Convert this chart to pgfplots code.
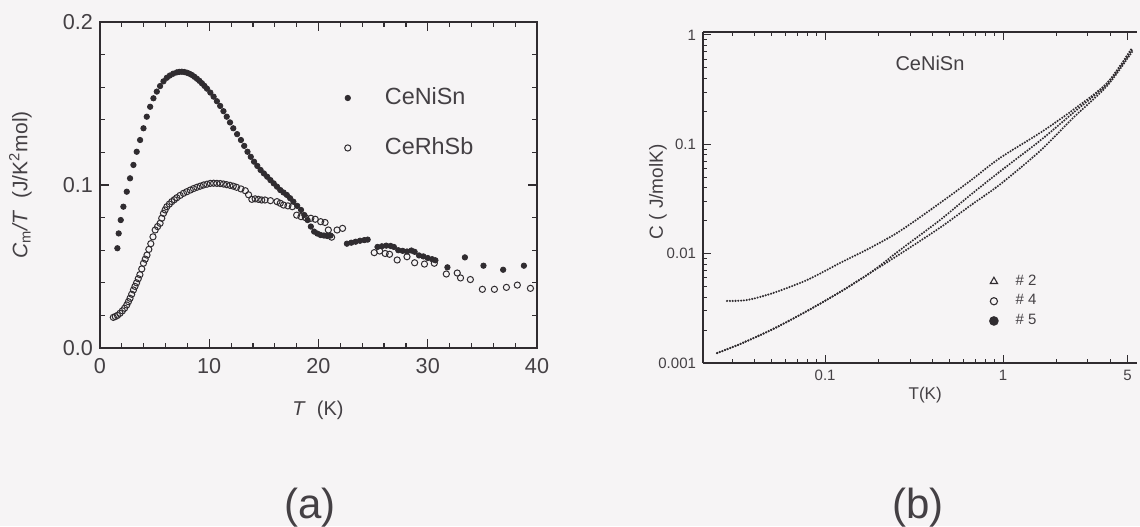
\documentclass[border=0pt]{standalone}
\usepackage{fontspec}
\setmainfont{Liberation Sans}
\usepackage{pgfplots}
\pgfplotsset{compat=1.18}

\definecolor{ink}{RGB}{48,44,48}
\definecolor{txt}{RGB}{68,64,68}
\definecolor{paper}{RGB}{246,244,245}

% C_m/T of CeNiSn (filled) and CeRhSb (open)
\pgfplotstableread{
T      c
1.59 0.0612
1.71 0.0703
1.90 0.0785
2.14 0.0867
2.45 0.0959
2.75 0.1041
3.06 0.1123
3.36 0.1204
3.67 0.1276
3.98 0.1348
4.28 0.1419
4.59 0.1480
4.89 0.1532
5.20 0.1573
5.50 0.1607
5.81 0.1636
6.12 0.1658
6.40 0.1672
6.70 0.1683
7.03 0.1691
7.26 0.1694
7.49 0.1695
7.72 0.1693
7.95 0.1689
8.18 0.1683
8.41 0.1675
8.64 0.1664
8.87 0.1652
9.10 0.1639
9.33 0.1624
9.56 0.1608
9.79 0.1591
10.1 0.1567
10.4 0.1542
10.7 0.1514
11.0 0.1485
11.3 0.1453
11.6 0.1419
11.9 0.1384
12.2 0.1348
12.55 0.1312
12.9 0.1276
13.2 0.1240
13.5 0.1204
13.8 0.1173
14.1 0.1143
14.4 0.1117
14.7 0.1092
15.0 0.1071
15.3 0.1051
15.6 0.1030
15.9 0.1010
16.2 0.0990
16.5 0.0969
16.8 0.0954
17.1 0.0939
17.4 0.0919
17.7 0.0898
18.05 0.0872
18.4 0.0847
18.7 0.0816
19.0 0.0785
19.3 0.0745
19.6 0.0714
19.9 0.0702
20.2 0.0693
20.5 0.0690
20.8 0.0687
21.1 0.0690
22.6 0.0640
23.0 0.0646
23.4 0.0652
23.8 0.0658
24.2 0.0662
24.5 0.0665
25.4 0.0620
25.8 0.0624
26.2 0.0628
26.6 0.0626
26.9 0.0620
27.3 0.0600
27.7 0.0596
28.1 0.0592
28.5 0.0598
28.8 0.0590
29.2 0.0568
29.6 0.0562
30.0 0.0552
30.4 0.0545
30.7 0.0538
31.8 0.0495
33.4 0.0556
35.1 0.0505
36.9 0.0480
38.8 0.0505
}\cenisn

\pgfplotstableread{
T      c
1.22 0.0188
1.40 0.0193
1.60 0.0200
1.83 0.0213
2.05 0.0228
2.25 0.0244
2.45 0.0264
2.60 0.0284
2.75 0.0305
2.90 0.0330
3.06 0.0356
3.20 0.0378
3.35 0.0400
3.50 0.0425
3.65 0.0450
3.82 0.0485
3.98 0.0520
4.14 0.0545
4.30 0.0570
4.47 0.0605
4.65 0.0640
4.85 0.0682
5.05 0.0724
5.27 0.0745
5.50 0.0765
5.65 0.0796
5.81 0.0826
5.96 0.0847
6.12 0.0867
6.35 0.0883
6.57 0.0898
6.80 0.0910
7.03 0.0922
7.33 0.0936
7.64 0.0949
7.95 0.0959
8.26 0.0969
8.56 0.0978
8.87 0.0986
9.17 0.0993
9.48 0.1000
9.79 0.1005
10.1 0.1010
10.4 0.1011
10.7 0.1010
11.0 0.1009
11.3 0.1006
11.6 0.1002
11.9 0.0998
12.2 0.0993
12.5 0.0986
12.9 0.0976
13.3 0.0965
13.6 0.0940
13.9 0.0912
14.2 0.0915
14.5 0.0912
14.8 0.0908
15.1 0.0908
15.6 0.0904
16.2 0.0898
16.5 0.0888
16.8 0.0877
17.2 0.0872
17.6 0.0867
18.0 0.0815
18.4 0.0806
18.8 0.0800
19.3 0.0796
19.7 0.0790
20.2 0.0775
20.6 0.0770
20.9 0.0724
21.2 0.0680
21.7 0.0724
22.2 0.0734
25.1 0.0585
25.6 0.0595
26.1 0.0580
26.5 0.0575
27.2 0.0540
28.1 0.0560
28.8 0.0523
29.7 0.0515
30.6 0.0520
31.7 0.0454
32.7 0.0460
33.0 0.0430
33.9 0.0420
35.0 0.0360
36.1 0.0360
37.2 0.0372
38.2 0.0386
39.4 0.0366
}\cerhsb

% C(T) of three CeNiSn samples
\pgfplotstableread{
T       C
0.02814 0.003694
0.03645 0.003770
0.05104 0.004369
0.0792  0.005745
0.1214  0.008221
0.1789  0.01127
0.2638  0.01613
0.4428  0.02909
0.6525  0.04625
0.9619  0.07508
1.614   0.1272
2.474   0.2064
3.840   0.3646
5.305   0.7621
}\sampletwo

\pgfplotstableread{
T       C
0.02473 0.001234
0.03331 0.001492
0.05104 0.002047
0.0792  0.002990
0.1214  0.004463
0.1789  0.006659
0.2638  0.01081
0.4428  0.02033
0.6525  0.03420
0.9619  0.05650
1.614   0.1080
2.474   0.1937
3.840   0.3568
5.305   0.7308
}\samplefour

\pgfplotstableread{
T       C
0.02473 0.001234
0.03331 0.001492
0.05104 0.002047
0.0792  0.002990
0.1214  0.004463
0.1789  0.006659
0.2638  0.009938
0.4428  0.01730
0.6525  0.02740
0.9619  0.04300
1.614   0.08700
2.474   0.1743
3.840   0.3421
5.305   0.7003
}\samplefive

\begin{document}
\begin{tikzpicture}
\fill[paper] (0pt,0pt) rectangle (570pt,263pt);
\useasboundingbox (0pt,0pt) rectangle (570pt,263pt);

% ---------------- (a) linear plot ----------------
\begin{axis}[
  at={(50pt,89pt)}, anchor=south west, scale only axis,
  width=218.5pt, height=163pt,
  xmin=0, xmax=40, ymin=0, ymax=0.2,
  xtick={0,10,20,30,40}, minor xtick={2,4,...,38},
  ytick={0,0.1,0.2}, minor ytick={0.02,0.04,0.06,0.08,0.12,0.14,0.16,0.18},
  tick align=inside, major tick length=4.5pt, minor tick length=2.5pt,
  axis line style={ink, line width=0.75pt},
  every tick/.style={ink, line width=0.6pt},
  tick label style={font=\fontsize{10.8}{12}\selectfont, text=txt},
  xticklabel style={yshift=-1.5pt},
  /pgf/number format/assume math mode=true,
  yticklabel style={/pgf/number format/.cd, fixed, fixed zerofill, precision=1},
  xlabel={\textit{T}\ \ (K)},
  xlabel style={at={(axis description cs:0.499,-0.19)}, anchor=center,
    font=\fontsize{10}{12}\selectfont, text=txt},
  ylabel={\textit{C}\textsubscript{m}\textit{/T}\ \ (J/K\textsuperscript{2}mol)},
  ylabel style={at={(axis description cs:-0.182,0.5)}, anchor=center,
    font=\fontsize{10.5}{12}\selectfont, text=txt},
  legend cell align=left,
  legend image code/.code={\draw[#1] plot coordinates {(0pt,0pt)};},
  legend style={at={(axis description cs:0.559,0.811)}, anchor=north west,
    draw=none, fill=none, inner sep=0pt, row sep=11pt,
    font=\fontsize{11.7}{13}\selectfont, text=txt,
    nodes={inner sep=2pt},
    /tikz/every odd column/.append style={column sep=15pt}},
]
\addplot[only marks, mark=*, mark size=1.35pt, ink] table[x=T, y=c] {\cenisn};
\addlegendentry{CeNiSn}
\addplot[only marks, mark=o, mark size=1.55pt, mark options={line width=0.5pt}, ink] table[x=T, y=c] {\cerhsb};
\addlegendentry{CeRhSb}
\end{axis}

% ---------------- (b) log-log plot ----------------
\begin{axis}[
  at={(351.5pt,81.5pt)}, anchor=south west, scale only axis,
  width=217pt, height=165.5pt,
  xmode=log, ymode=log,
  axis x line*=box, axis y line*=left,
  xmin=0.0206, xmax=5.66, ymin=0.001, ymax=1.065,
  xtick={0.1,1,5}, xticklabels={0.1,1,5},
  minor xtick={0.03,0.04,0.05,0.06,0.07,0.08,0.09,0.2,0.3,0.4,0.5,0.6,0.7,0.8,0.9,2,3,4},
  ytick={0.001,0.01,0.1,1}, yticklabels={0.001,0.01,0.1,1},
  minor ytick={0.002,0.003,0.004,0.005,0.006,0.007,0.008,0.009,
               0.02,0.03,0.04,0.05,0.06,0.07,0.08,0.09,
               0.2,0.3,0.4,0.5,0.6,0.7,0.8,0.9},
  tick align=inside, major tick length=4pt, minor tick length=2.2pt,
  axis line style={ink, line width=0.6pt, -},
  every tick/.style={ink, line width=0.5pt},
  tick label style={font=\fontsize{7.5}{8}\selectfont, text=txt},
  xlabel={T(K)},
  xlabel style={at={(axis description cs:0.512,-0.097)}, anchor=center,
    font=\fontsize{8.5}{9}\selectfont, text=txt},
  ylabel={C ( J/molK)},
  ylabel style={at={(axis description cs:-0.104,0.517)}, anchor=center,
    font=\fontsize{9.5}{10}\selectfont, text=txt},
  legend cell align=left,
  legend style={at={(axis description cs:0.661,0.274)}, anchor=north west,
    draw=none, fill=none, inner sep=0pt, row sep=1.2pt,
    font=\fontsize{7.5}{8}\selectfont, text=txt,
    nodes={inner sep=1pt},
    /tikz/every odd column/.append style={column sep=8pt}},
]
\addplot[ink, line width=1.15pt, line cap=round, dash pattern=on 0pt off 1.4pt, smooth,
  legend image code/.code={\draw[solid, ink, line width=0.55pt, mark=triangle, mark size=2.1pt] plot coordinates {(0pt,0pt)};}]
  table[x=T, y=C] {\sampletwo};
\addlegendentry{\# 2}
\addplot[ink, line width=1.15pt, line cap=round, dash pattern=on 0pt off 1.4pt, smooth,
  legend image code/.code={\draw[solid, ink, line width=0.55pt, mark=o, mark size=1.8pt] plot coordinates {(0pt,0pt)};}]
  table[x=T, y=C] {\samplefour};
\addlegendentry{\# 4}
\addplot[ink, line width=1.15pt, line cap=round, dash pattern=on 0pt off 1.4pt, smooth,
  legend image code/.code={\draw[solid, ink, mark=*, mark size=1.8pt] plot coordinates {(0pt,0pt)};}]
  table[x=T, y=C] {\samplefive};
\addlegendentry{\# 5}
\node[font=\fontsize{10}{11}\selectfont, text=txt] at (axis description cs:0.523,0.906) {CeNiSn};
\end{axis}

\node[font=\fontsize{21}{25}\selectfont, text=txt] at (155pt,9pt) {(a)};
\node[font=\fontsize{21}{25}\selectfont, text=txt] at (459pt,9pt) {(b)};
\end{tikzpicture}
\end{document}
